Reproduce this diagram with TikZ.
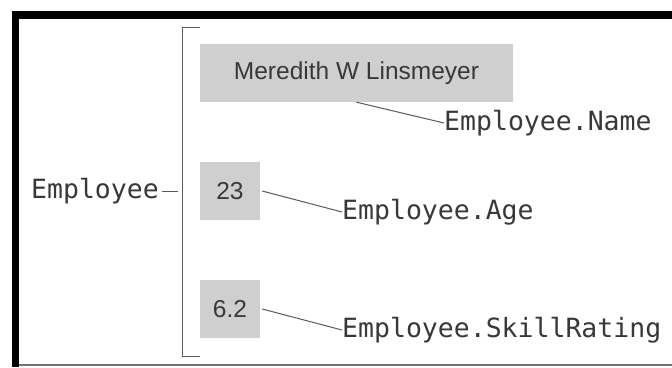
\documentclass[tikz,border=0pt]{standalone}
\usepackage{fontspec}
\setmainfont{Liberation Sans}
\setmonofont{DejaVu Sans Mono}
\usetikzlibrary{positioning}

\begin{document}
\begin{tikzpicture}[x=1pt, y=-1pt]
  \tikzstyle{field} = [rectangle, fill=black!19, text=black!78, inner sep=0pt,
    font=\fontsize{24.5}{28}\selectfont]
  \tikzstyle{member} = [inner sep=0pt, text=black!78, font=\ttfamily\fontsize{26.5}{30}\selectfont]
  \tikzstyle{line} = [draw, black!65, line width=1pt]

  \useasboundingbox (0,0) rectangle (672,367);

  % Frame
  \draw [line width=7.5pt] (672,15) -- (15.5,15) -- (15.5,367);
  \draw [black!55, line width=2pt] (19,365) -- (672,365);

  % Place nodes
  \node [field, minimum width=313pt, minimum height=58pt] (namebox) at (356.5,73) {Meredith W Linsmeyer};
  \node [field, minimum width=60pt, minimum height=58pt] (agebox) at (230,191) {23};
  \node [field, minimum width=60pt, minimum height=58pt] (skillbox) at (230,309) {6.2};

  \node [member, anchor=west] (namelbl) at (444,123) {Employee.Name};
  \node [member, anchor=west] (agelbl) at (342,212) {Employee.Age};
  \node [member, anchor=west] (skilllbl) at (342,330) {Employee.SkillRating};

  \node [member, anchor=east] (emp) at (159,191) {Employee};

  \coordinate (brtop) at (182,27);
  \coordinate (brbot) at (182,356);
  \coordinate (brmid) at (182,191);

  % Draw edges
  \path [line] ([xshift=18pt]brtop) -- (brtop) -- (brbot) -- ([xshift=18pt]brbot);
  \path [line] ([xshift=3pt]emp.east) -- ([xshift=-4pt]brmid);

  \path [line] (namebox.south) -- (namelbl.west);
  \path [line] ([xshift=2pt]agebox.east) -- (agelbl.west);
  \path [line] ([xshift=2pt]skillbox.east) -- (skilllbl.west);
\end{tikzpicture}
\end{document}
